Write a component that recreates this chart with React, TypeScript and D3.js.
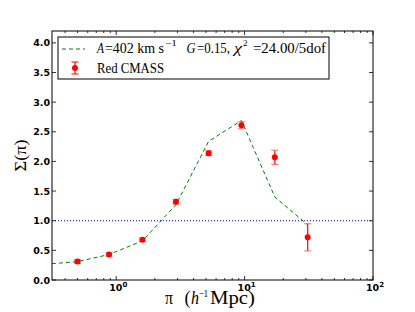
import React, { useRef, useEffect } from "react";
import * as d3 from "d3";

// measured data
const dataX = [0.5, 0.88, 1.6, 2.92, 5.25, 9.45, 17.2, 31.0];
const dataY = [0.31, 0.43, 0.68, 1.32, 2.14, 2.61, 2.07, 0.72];
const dataErr = [0.03, 0.03, 0.03, 0.04, 0.04, 0.06, 0.12, 0.23];

// model curve
const modelX = [0.316, 0.5, 0.88, 1.6, 2.92, 5.25, 9.45, 17.2, 31.0];
const modelY = [0.275, 0.31, 0.43, 0.66, 1.27, 2.34, 2.69, 1.4, 0.93];

const yTicks = [0, 0.5, 1, 1.5, 2, 2.5, 3, 3.5, 4];
const xMajor = [1, 10, 100];
const xExp = ["0", "1", "2"];

const W = 415;
const H = 312;
const margin = { top: 31, right: 42, bottom: 32, left: 52 };

const App = () => {
  const svgRef = useRef<SVGSVGElement>(null);

  useEffect(() => {
    const svg = d3.select(svgRef.current);
    const x0 = margin.left;
    const x1 = W - margin.right;
    const y0 = H - margin.bottom;
    const y1 = margin.top;

    const x = d3.scaleLog().domain([Math.pow(10, -0.5), 100]).range([x0, x1]);
    const y = d3.scaleLinear().domain([0, 4.2]).range([y0, y1]);

    svg.append("defs").append("clipPath").attr("id", "plotclip")
      .append("rect").attr("x", x0).attr("y", y1).attr("width", x1 - x0).attr("height", y0 - y1);

    const plot = svg.append("g").attr("clip-path", "url(#plotclip)");

    // reference line at 1
    plot.append("line")
      .attr("x1", x0).attr("x2", x1)
      .attr("y1", y(1)).attr("y2", y(1))
      .attr("stroke", "#0000ff").attr("stroke-width", 1)
      .attr("stroke-dasharray", "1,2");

    const line = d3.line<number>()
      .x((_, i) => x(modelX[i]))
      .y((d) => y(d));
    plot.append("path")
      .datum(modelY)
      .attr("fill", "none")
      .attr("stroke", "#008000")
      .attr("stroke-width", 1)
      .attr("stroke-dasharray", "4,3")
      .attr("d", line);

    // error bars
    dataX.forEach((dx, i) => {
      const cx = x(dx);
      const top = y(dataY[i] + dataErr[i]);
      const bot = y(dataY[i] - dataErr[i]);
      plot.append("line").attr("x1", cx).attr("x2", cx).attr("y1", top).attr("y2", bot)
        .attr("stroke", "#ff0000").attr("stroke-width", 1.2);
      [top, bot].forEach((cy) => {
        plot.append("line").attr("x1", cx - 3.5).attr("x2", cx + 3.5).attr("y1", cy).attr("y2", cy)
          .attr("stroke", "#ff6666").attr("stroke-width", 1);
      });
      plot.append("circle").attr("cx", cx).attr("cy", y(dataY[i])).attr("r", 3)
        .attr("fill", "#ff0000");
    });

    // frame
    svg.append("rect").attr("x", x0).attr("y", y1).attr("width", x1 - x0).attr("height", y0 - y1)
      .attr("fill", "none").attr("stroke", "#000").attr("stroke-width", 1);

    const ticks = svg.append("g").attr("stroke", "#000").attr("stroke-width", 0.8);
    yTicks.forEach((t) => {
      const ty = y(t);
      ticks.append("line").attr("x1", x0).attr("x2", x0 + 4).attr("y1", ty).attr("y2", ty);
      ticks.append("line").attr("x1", x1).attr("x2", x1 - 4).attr("y1", ty).attr("y2", ty);
      svg.append("text").attr("x", x0 - 2).attr("y", ty + 3.5)
        .attr("text-anchor", "end")
        .style("font-family", "DejaVu Sans").style("font-weight", "bold").style("font-size", "9.5px")
        .text(t.toFixed(1));
    });

    // x ticks, major and minor
    const minors: number[] = [];
    for (let e = -1; e < 2; e++) {
      for (let m = 2; m <= 9; m++) {
        const v = m * Math.pow(10, e);
        if (v >= Math.pow(10, -0.5) && v <= 100) minors.push(v);
      }
    }
    minors.forEach((v) => {
      const tx = x(v);
      ticks.append("line").attr("x1", tx).attr("x2", tx).attr("y1", y0).attr("y2", y0 - 2);
      ticks.append("line").attr("x1", tx).attr("x2", tx).attr("y1", y1).attr("y2", y1 + 2);
    });
    xMajor.forEach((v, i) => {
      const tx = x(v);
      ticks.append("line").attr("x1", tx).attr("x2", tx).attr("y1", y0).attr("y2", y0 - 4);
      ticks.append("line").attr("x1", tx).attr("x2", tx).attr("y1", y1).attr("y2", y1 + 4);
      const t = svg.append("text").attr("x", tx + 2).attr("y", y0 + 11)
        .attr("text-anchor", "middle")
        .style("font-family", "DejaVu Sans").style("font-weight", "bold").style("font-size", "9.5px");
      t.append("tspan").text("10");
      t.append("tspan").attr("dy", -4).style("font-size", "7px").text(xExp[i]);
    });

    // text helper with explicit x positions and widths
    const put = (
      g: d3.Selection<any, unknown, null, undefined>,
      tx: number, ty: number, s: string, size: number, italic = false, w = 0
    ) => {
      const t = g.append("text").attr("x", tx).attr("y", ty)
        .style("font-family", "Liberation Serif").style("font-size", `${size}px`)
        .style("font-style", italic ? "italic" : "normal")
        .text(s);
      if (w > 0) t.attr("textLength", w).attr("lengthAdjust", "spacingAndGlyphs");
      return t;
    };

    // x axis label
    put(svg, 165, 304, "π", 18, false, 8);
    put(svg, 184.5, 304, "(", 18);
    put(svg, 191, 304, "h", 18, true, 8);
    put(svg, 199, 297, "−1", 11, false, 9);
    put(svg, 210, 304, "Mpc)", 18, false, 45);

    svg.append("text")
      .attr("transform", `translate(26, ${(y0 + y1) / 2}) rotate(-90)`)
      .attr("text-anchor", "middle")
      .attr("textLength", 32).attr("lengthAdjust", "spacingAndGlyphs")
      .style("font-family", "Liberation Serif").style("font-size", "16px")
      .text("Σ(π)");

    // legend
    const lg = svg.append("g");
    lg.append("rect").attr("x", 58).attr("y", 37).attr("width", 271).attr("height", 42)
      .attr("fill", "#fff").attr("stroke", "#000").attr("stroke-width", 1);
    lg.append("line").attr("x1", 62).attr("x2", 85).attr("y1", 49).attr("y2", 49)
      .attr("stroke", "#008000").attr("stroke-width", 1).attr("stroke-dasharray", "4,3");
    put(lg, 97, 52.5, "A", 14, true, 7);
    put(lg, 105, 52.5, "=402 km s", 14, false, 59);
    put(lg, 165, 46, "−1", 9, false, 12);
    put(lg, 186.5, 52.5, "G", 14, true, 9);
    put(lg, 197, 52.5, "=0.15,", 14, false, 33);
    put(lg, 234, 52.5, "χ", 14, true, 8);
    put(lg, 243, 46, "2", 9);
    put(lg, 253, 52.5, "=24.00/5dof", 14, false, 73);

    const mx = 75;
    const my = 68;
    lg.append("line").attr("x1", mx).attr("x2", mx).attr("y1", my - 6).attr("y2", my + 6)
      .attr("stroke", "#ff0000").attr("stroke-width", 1.2);
    [my - 6, my + 6].forEach((cy) => {
      lg.append("line").attr("x1", mx - 3.5).attr("x2", mx + 3.5).attr("y1", cy).attr("y2", cy)
        .attr("stroke", "#ff0000").attr("stroke-width", 1);
    });
    lg.append("circle").attr("cx", mx).attr("cy", my).attr("r", 3).attr("fill", "#ff0000");
    put(lg, 97, 72.5, "Red CMASS", 14, false, 67);

    return () => {
      svg.selectAll("*").remove();
    };
  }, []);

  return (
    <svg ref={svgRef} width={W} height={H} style={{ position: "absolute", left: 0, top: 0 }} />
  );
};

export default App;
